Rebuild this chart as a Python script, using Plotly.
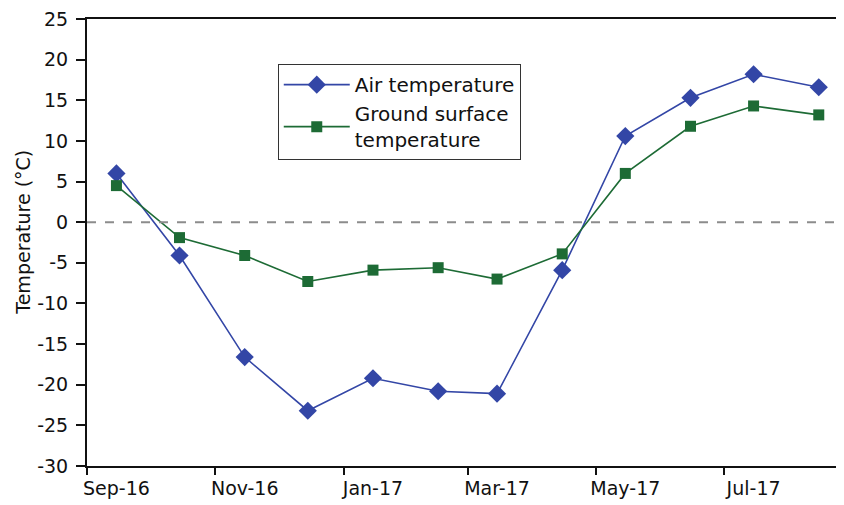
import plotly.graph_objects as go

months = ["2016-09-15", "2016-10-15", "2016-11-15", "2016-12-15", "2017-01-15", "2017-02-15",
          "2017-03-15", "2017-04-15", "2017-05-15", "2017-06-15", "2017-07-15", "2017-08-15"]
air_temp = [6.0, -4.1, -16.6, -23.2, -19.2, -20.8, -21.1, -5.9, 10.6, 15.3, 18.2, 16.6]
ground_temp = [4.5, -1.9, -4.1, -7.3, -5.9, -5.6, -7.0, -3.9, 6.0, 11.8, 14.3, 13.2]
tick_label_dates = ["2016-09-15", "2016-11-15", "2017-01-15", "2017-03-15", "2017-05-15", "2017-07-15"]
tick_labels = ["Sep-16", "Nov-16", "Jan-17", "Mar-17", "May-17", "Jul-17"]
tick_mark_dates = ["2016-09-01", "2016-11-01", "2017-01-01", "2017-03-01", "2017-05-01", "2017-07-01"]
y_ticks = [-30, -25, -20, -15, -10, -5, 0, 5, 10, 15, 20, 25]
y_tick_labels = ["-30", "-25", "-20", "-15", "-10", "-5", "0", "5", "10", "15", "20", "25"]

BLUE = "#3346A6"
GREEN = "#1D6B35"
FONT = "DejaVu Sans, Arial, sans-serif"

fig = go.Figure()
fig.add_trace(go.Scatter(
    x=months, y=air_temp, mode="lines+markers", name="Air temperature",
    line=dict(color=BLUE, width=1.6),
    marker=dict(symbol="diamond", size=14, color=BLUE),
))
fig.add_trace(go.Scatter(
    x=months, y=ground_temp, mode="lines+markers", name="Ground surface<br>temperature",
    line=dict(color=GREEN, width=1.6),
    marker=dict(symbol="square", size=11, color=GREEN),
))

fig.add_hline(y=0, line=dict(color="#8c8c8c", width=2, dash="dash"))

fig.add_annotation(
    text="Temperature (°C)", textangle=-90,
    xref="paper", yref="paper", x=-0.0845, y=0.522,
    xanchor="center", yanchor="middle", showarrow=False,
    font=dict(size=19, family=FONT, color="#111111"),
)

fig.update_layout(
    width=836, height=497,
    margin=dict(l=79, r=0, t=11, b=39),
    plot_bgcolor="white", paper_bgcolor="white",
    font=dict(family=FONT, size=19, color="#111111"),
    showlegend=True,
    legend=dict(
        x=0.252, y=0.899, xanchor="left", yanchor="top",
        bordercolor="#333333", borderwidth=1, bgcolor="white",
        font=dict(size=20), itemwidth=66, tracegroupgap=4,
    ),
    xaxis=dict(
        type="date", range=["2016-09-01", "2017-08-27"], automargin=False,
        tickmode="array", tickvals=tick_label_dates, ticktext=tick_labels,
        ticks="", showgrid=False, zeroline=False, ticklabeloverflow="allow",
        ticklabelstandoff=4,
        showline=True, linecolor="#111111", linewidth=2, mirror=True,
        minor=dict(tickmode="array", tickvals=tick_mark_dates, ticks="outside",
                   ticklen=7, tickcolor="#111111", tickwidth=2, showgrid=False),
        tickfont=dict(size=19),
    ),
    yaxis=dict(
        range=[-30, 25], automargin=False, ticklabeloverflow="allow",
        ticklabelstandoff=4,
        tickmode="array", tickvals=y_ticks, ticktext=y_tick_labels,
        ticks="outside", ticklen=9, tickwidth=2, tickcolor="#111111",
        showgrid=False, zeroline=False,
        showline=True, linecolor="#111111", linewidth=2,
        tickfont=dict(size=19),
    ),
)

fig.write_html("out.html")
